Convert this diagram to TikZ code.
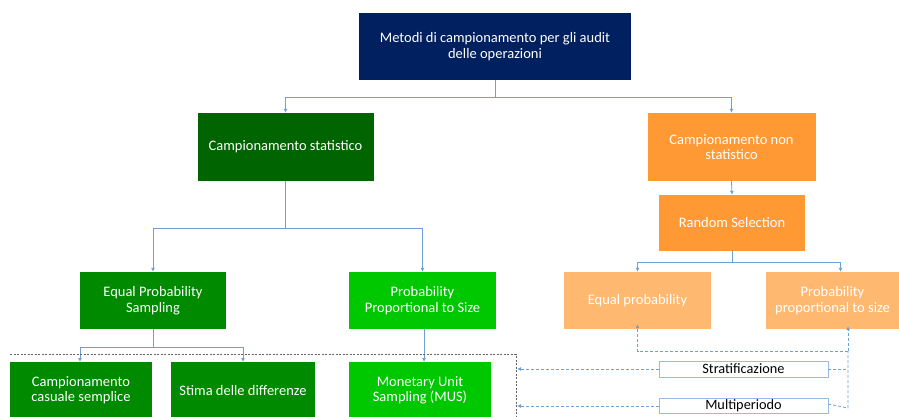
\documentclass[tikz,border=0pt]{standalone}
\usepackage{fontspec}
\setmainfont{Carlito}
\usetikzlibrary{arrows.meta}
\definecolor{navy}{HTML}{002060}
\definecolor{dgreen}{HTML}{006400}
\definecolor{mgreen}{HTML}{008A00}
\definecolor{bgreen}{HTML}{00C800}
\definecolor{orng}{HTML}{FF9933}
\definecolor{lorng}{HTML}{FFB870}
\definecolor{conn}{HTML}{6F9FD8}
\tikzset{
  box/.style={draw=none, text=white, align=center, font=\fontsize{14.5}{15.5}\selectfont, inner sep=0pt},
  lbox/.style={draw=conn!70, fill=white, text=black, align=center, font=\fontsize{14.3}{15}\selectfont, inner sep=0pt},
  link/.style={draw=conn, line width=0.8pt, -{Latex[length=4pt,width=4pt]}},
  plain/.style={draw=conn, line width=0.8pt},
  dlink/.style={draw=conn, line width=0.8pt, dashed, dash pattern=on 3pt off 2pt, -{Latex[length=4pt,width=4pt]}},
  dplain/.style={draw=conn, line width=0.8pt, dash pattern=on 3pt off 2pt},
}
\begin{document}
\begin{tikzpicture}[x=1pt,y=-1pt]
\useasboundingbox (0,0) rectangle (899,417);
\fill[white] (0,0) rectangle (899,417);
% boxes
\node[box, fill=navy, minimum width=272, minimum height=67] (top) at (495,46.5) {Metodi di campionamento per gli audit\\delle operazioni};
\node[box, fill=dgreen, minimum width=176, minimum height=68] (stat) at (285.5,147) {Campionamento statistico};
\node[box, fill=orng, minimum width=168, minimum height=68] (nstat) at (731.5,147) {Campionamento non\\statistico};
\node[box, fill=orng, minimum width=146, minimum height=56] (rand) at (732,223) {Random Selection};
\node[box, fill=mgreen, minimum width=146, minimum height=57] (eps) at (153,300.5) {Equal Probability\\Sampling};
\node[box, fill=bgreen, minimum width=147, minimum height=57] (pps) at (422.5,300.5) {Probability\\Proportional to Size};
\node[box, fill=lorng, minimum width=147, minimum height=57] (ep) at (637.5,300.5) {Equal probability};
\node[box, fill=lorng, minimum width=133, minimum height=57] (ppsn) at (832.5,300.5) {Probability\\proportional to size};
\node[box, fill=mgreen, minimum width=142, minimum height=56, anchor=north] (ccs) at (81,362) {Campionamento\\casuale semplice};
\node[box, fill=mgreen, minimum width=144, minimum height=56, anchor=north] (sd) at (243,362) {Stima delle differenze};
\node[box, fill=bgreen, minimum width=142, minimum height=56, anchor=north] (mus) at (420,362) {Monetary Unit\\Sampling (MUS)};
\node[lbox, minimum width=169, minimum height=16] (strat) at (743.5,369) {Stratificazione};
\node[lbox, minimum width=169, minimum height=15] (multi) at (743.5,406) {Multiperiodo};
% coordinates
\coordinate (j1) at (495,97);
\coordinate (j2) at (285.5,228);
\coordinate (j3) at (732,262);
\coordinate (j4) at (153,347);
\coordinate (dl1) at (517,369);
\coordinate (dl2) at (517,406);
% solid connectors
\draw[plain] (top.south) -- (j1);
\draw[link] (j1) -| (stat.north);
\draw[link] (j1) -| (nstat.north);
\draw[link] (nstat.south) -- (rand.north);
\draw[plain] (stat.south) -- (j2);
\draw[link] (j2) -| (eps.north);
\draw[link] (j2) -| (pps.north);
\draw[plain] (rand.south) -- (j3);
\draw[link] (j3) -| (ep.north);
\draw[link] (j3) -| ([xshift=8pt]ppsn.north);
\draw[plain] (eps.south) -- (j4);
\draw[link] (j4) -| ([xshift=-1pt]ccs.north);
\draw[link] (j4) -| (sd.north);
\draw[link] ([xshift=1.5pt]pps.south) -- ([xshift=4pt]mus.north);
% dashed grey frame
\draw[gray!80!black, line width=0.7pt, dash pattern=on 2pt off 1.5pt] (10,354.5) -- (516,354.5) -- (516,417);
% dashed blue connectors
\coordinate (v) at (848,369);
\coordinate (vb) at (848,408);
\coordinate (h) at (848,351);
\draw[dlink] (strat.west) -- (dl1);
\draw[dlink] (multi.west) -- (dl2);
\draw[dplain] (strat.east) -- (v);
\draw[dplain] ([yshift=2pt]multi.east) -- (vb) -- (h);
\draw[dlink] (h) -- ([xshift=15.5pt,yshift=3pt]ppsn.south);
\draw[dlink] (h) -| ([yshift=5pt]ep.south);
\end{tikzpicture}
\end{document}
